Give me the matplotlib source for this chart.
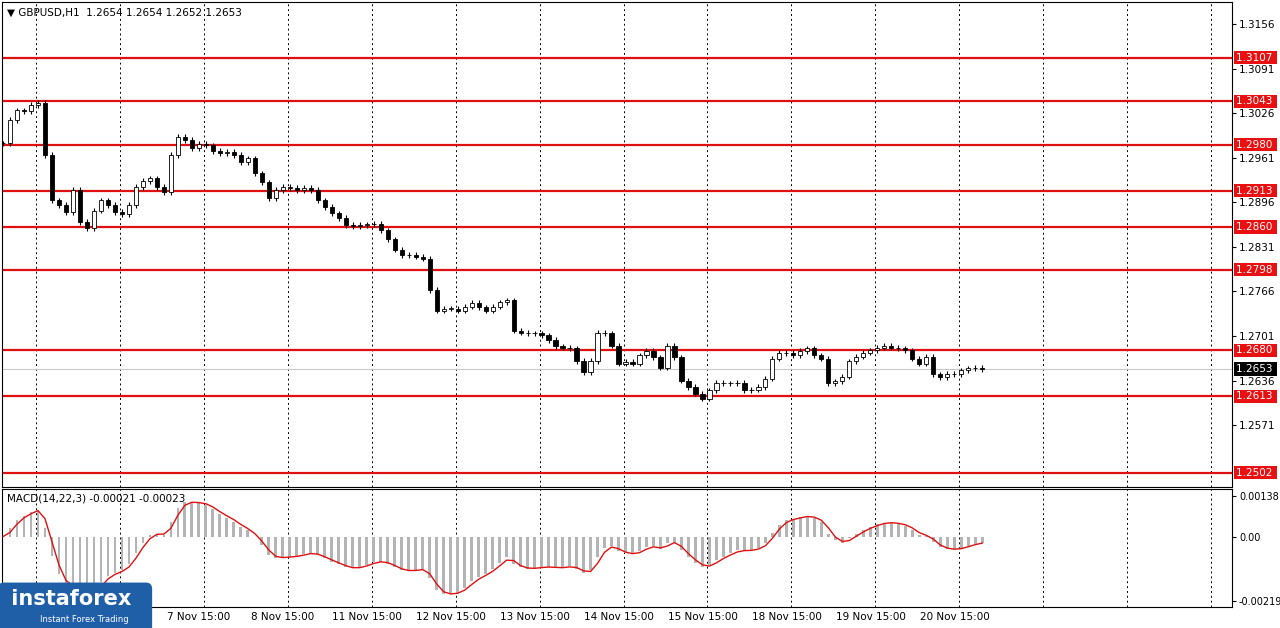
import matplotlib.pyplot as plt
import matplotlib.transforms as mtransforms
import numpy as np

# 2-hour closes, GBPUSD
closes = [1.2982, 1.3016, 1.3030, 1.3029, 1.3038, 1.3041, 1.2965, 1.2899, 1.2892, 1.2882,
          1.2914, 1.2867, 1.2858, 1.2884, 1.2899, 1.2892, 1.2882, 1.2879, 1.2892, 1.2918,
          1.2927, 1.2931, 1.2918, 1.2911, 1.2965, 1.2991, 1.2987, 1.2975, 1.2981, 1.2979,
          1.2971, 1.2968, 1.2969, 1.2965, 1.2955, 1.2960, 1.2938, 1.2925, 1.2902, 1.2914,
          1.2918, 1.2917, 1.2914, 1.2917, 1.2914, 1.2899, 1.2889, 1.2880, 1.2873, 1.2863,
          1.2861, 1.2863, 1.2864, 1.2865, 1.2855, 1.2842, 1.2827, 1.2819, 1.2819, 1.2817,
          1.2814, 1.2768, 1.2738, 1.2741, 1.2741, 1.2738, 1.2744, 1.2749, 1.2743, 1.2738,
          1.2744, 1.2750, 1.2753, 1.2709, 1.2706, 1.2705, 1.2705, 1.2702, 1.2695, 1.2686,
          1.2684, 1.2683, 1.2665, 1.2648, 1.2665, 1.2706, 1.2705, 1.2687, 1.2661, 1.2663,
          1.2661, 1.2673, 1.2679, 1.2670, 1.2655, 1.2687, 1.2670, 1.2636, 1.2627, 1.2617,
          1.2610, 1.2622, 1.2633, 1.2632, 1.2632, 1.2633, 1.2622, 1.2623, 1.2627, 1.2639,
          1.2668, 1.2676, 1.2676, 1.2673, 1.2679, 1.2683, 1.2673, 1.2668, 1.2632, 1.2635,
          1.2642, 1.2664, 1.2671, 1.2677, 1.2680, 1.2684, 1.2687, 1.2684, 1.2683, 1.2680,
          1.2668, 1.2661, 1.2671, 1.2645, 1.2641, 1.2646, 1.2645, 1.2651, 1.2654, 1.2655,
          1.2653]
levels = [1.3107, 1.3043, 1.2980, 1.2913, 1.2860, 1.2798, 1.2680, 1.2613, 1.2502]
price_ticks = [1.3156, 1.3091, 1.3026, 1.2961, 1.2896, 1.2831, 1.2766, 1.2701, 1.2636, 1.2571]
current = 1.2653
day_labels = ['5 Nov 2024', '6 Nov 15:00', '7 Nov 15:00', '8 Nov 15:00', '11 Nov 15:00',
              '12 Nov 15:00', '13 Nov 15:00', '14 Nov 15:00', '15 Nov 15:00', '18 Nov 15:00',
              '19 Nov 15:00', '20 Nov 15:00']

c = np.array(closes)
o = np.r_[c[0], c[:-1]]
hours = np.arange(len(c)) * 2
hi = np.maximum(o, c) + 0.0004
lo = np.minimum(o, c) - 0.0004

# MACD(14,22,3) on hourly -> spans halved for 2h closes
def ema(x, n):
    a = 2 / (n + 1)
    out = [x[0]]
    for v in x[1:]:
        out.append(a * v + (1 - a) * out[-1])
    return np.array(out)

macd = ema(c, 7) - ema(c, 11)
signal = np.convolve(macd, np.ones(2) / 2, mode='full')[:len(macd)]
signal[0] = macd[0]

fig = plt.figure(figsize=(12.8, 6.28), dpi=100)
ax = fig.add_axes([2 / 1280, 1 - 487 / 628, 1230 / 1280, 485 / 628])
ax2 = fig.add_axes([2 / 1280, 1 - 607 / 628, 1230 / 1280, 118 / 628])

xmax = 1230 / 3.5
grid_x = [9.43 + 24 * j for j in range(15) if 9.43 + 24 * j < xmax]
for a in (ax, ax2):
    a.set_xlim(-0.3, xmax)
    for gx in grid_x:
        a.axvline(gx, color='black', lw=0.7, ls=(0, (2, 3)), zorder=0)
    a.set_xticks([])
    a.yaxis.tick_right()
    a.tick_params(axis='y', labelsize=7.5, length=3, pad=2)
    for s in a.spines.values():
        s.set_color('black')

ymin, ymax = 1.2481, 1.3188
ax.set_ylim(ymin, ymax)
ax.set_yticks(price_ticks)
ax.set_yticklabels(['%.4f' % t for t in price_ticks])

trans = mtransforms.blended_transform_factory(ax.transAxes, ax.transData)
for lv in levels:
    ax.axhline(lv, color='#e01010', lw=1.6, zorder=1)
    ax.text(1.003, lv, '%.4f ' % lv, transform=trans, color='white', fontsize=7.5,
            va='center', ha='left',
            bbox=dict(boxstyle='square,pad=0.15', fc='#e81010', ec='none'), zorder=5, clip_on=False)
ax.axhline(current, color='#c8c8c8', lw=0.8, zorder=1)
ax.text(1.003, current, '%.4f ' % current, transform=trans, color='white', fontsize=7.5,
        va='center', ha='left',
        bbox=dict(boxstyle='square,pad=0.15', fc='black', ec='none'), zorder=5, clip_on=False)

for h, oo, cc, hh, ll in zip(hours, o, c, hi, lo):
    ax.vlines(h, ll, hh, color='black', lw=0.8, zorder=3)
    bull = cc >= oo
    bot = min(oo, cc)
    height = max(abs(cc - oo), 0.00005)
    ax.bar(h, height, bottom=bot, width=1.2, color='white' if bull else 'black',
           edgecolor='black', lw=0.6, zorder=4)

ax.text(0.004, 0.988, '\u25bc GBPUSD,H1  1.2654 1.2654 1.2652 1.2653', transform=ax.transAxes,
        fontsize=7.5, va='top', ha='left', zorder=6)

ax2.set_ylim(-0.0024, 0.00162)
ax2.set_yticks([0.00138, 0.0, -0.00219])
ax2.set_yticklabels(['0.00138', '0.00', '-0.00219'])
ax2.tick_params(axis='y', labelsize=7)
ax2.bar(hours, macd, width=0.8, color='#b4b4b4', zorder=2)
ax2.plot(hours, signal, color='#e01010', lw=1.0, zorder=3)
ax2.text(0.004, 0.96, 'MACD(14,22,3) -0.00021 -0.00023', transform=ax2.transAxes,
         fontsize=7.5, va='top', ha='left')

for j, lab in enumerate(day_labels):
    px = 2 + 3.5 * grid_x[j]
    if j == 0:
        fig.text(4 / 1280, 1 - 617 / 628, lab, fontsize=7.5, ha='left', va='center')
    else:
        fig.text((px - 4) / 1280, 1 - 617 / 628, lab, fontsize=7.5, ha='center', va='center')

fig.text(4 / 1280, 1 - 608 / 628, ' instaforex  \n', fontsize=15, color='white', fontweight='bold',
         va='center', ha='left', linespacing=0.9, zorder=10,
         bbox=dict(boxstyle='round,pad=0.3', fc='#1f5fa8', ec='none'))
fig.text(40 / 1280, 1 - 620 / 628, 'Instant Forex Trading', fontsize=6, color='white', va='center',
         zorder=11)

fig.savefig('out.png', dpi=100)
